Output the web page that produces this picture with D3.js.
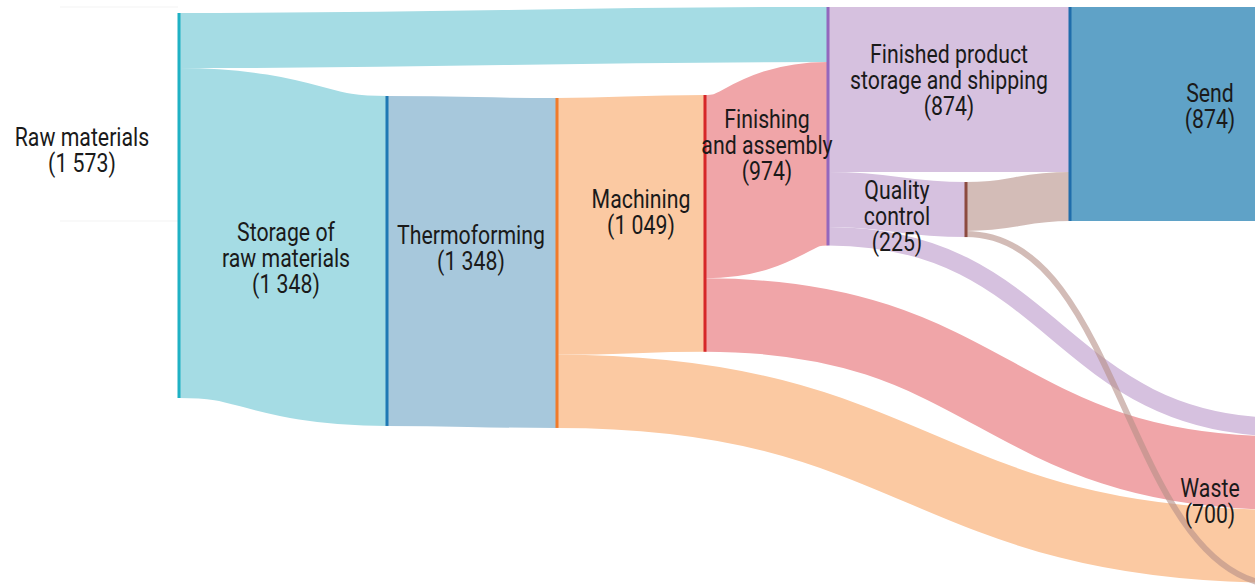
<!DOCTYPE html>
<html>
<head>
<meta charset="utf-8">
<script src="https://cdn.jsdelivr.net/npm/d3@7"></script>
<style>
  body { margin: 0; background: #fff; }
  svg { display: block; }
  text { font-family: Roboto, "Liberation Sans", sans-serif; font-weight: 400; font-size: 26px; fill: #1a1a1a; }
</style>
</head>
<body>
<svg width="1255" height="587"></svg>
<script>
// flows
let nodeNames = ["Raw materials", "Storage of\nraw materials", "Thermoforming", "Machining",
  "Finishing\nand assembly", "Quality\ncontrol", "Finished product\nstorage and shipping", "Send", "Waste"];
let nodeTotals = [1573, 1348, 1348, 1049, 974, 225, 874, 874, 700];
let linkSource = [0, 0, 1, 2, 3, 4, 4, 5, 6, 4, 3, 2, 5];
let linkTarget = [4, 1, 2, 3, 4, 6, 5, 6, 7, 8, 8, 8, 8];
let linkValue  = [225, 1348, 1348, 1049, 749, 674, 225, 200, 874, 75, 300, 299, 25];

// layout and style
let nodeX   = [179, 387, 557, 705, 828, 966, 1070, 1350, 1285];
let nodeTop = [13, 96, 98, 95, 7, 182, 7, 7, 418];
let labelX  = [82, 286, 471, 641, 767, 897, 949, 1210, 1210];
let labelY  = [146, 241, 244, 208, 128, 199, 63, 102, 497];
let nodeColor = ["#1fb1c4", "#1f78b4", "#f07b2b", "#d62728", "#9467bd", "#8c4b40", "#1f6dab", "#1f6dab", "#888"];
let linkColor = ["#a5dce4", "#a7c8dc", "#fbc9a2", "#f0a5a8", "#d6c1df", "#b58f87", "#5fa2c7"];

let svg = d3.select("svg");
let fmt = d3.formatLocale({decimal: ",", thousands: " ", grouping: [3], currency: ["", ""]}).format(",d");

let links = linkValue.map(function(v, i) {
  return {source: linkSource[i], target: linkTarget[i], value: v};
});

let nodes = nodeNames.map(function(name, i) {
  let vin = d3.sum(links.filter(function(l) { return l.target === i; }), function(l) { return l.value; });
  let vout = d3.sum(links.filter(function(l) { return l.source === i; }), function(l) { return l.value; });
  return {name: name, index: i, value: Math.max(vin, vout), outY: nodeTop[i], inY: nodeTop[i]};
});

let h = d3.scaleLinear()
    .domain([0, d3.max(nodes, function(d) { return d.value; })])
    .range([0, 385]);

// stack links at each end in array order
links.forEach(function(l) {
  let w = h(l.value);
  l.width = w;
  l.y0 = nodes[l.source].outY + w / 2;
  nodes[l.source].outY += w;
  l.y1 = nodes[l.target].inY + w / 2;
  nodes[l.target].inY += w;
});

let linkPath = d3.linkHorizontal()
    .source(function(d) { return [nodeX[d.source], d.y0]; })
    .target(function(d) { return [nodeX[d.target], d.y1]; });

// faint rules at the far left
svg.selectAll(".rule")
  .data([7, 221])
  .enter().append("line")
    .attr("x1", 60).attr("x2", 178)
    .attr("y1", function(d) { return d; }).attr("y2", function(d) { return d; })
    .attr("stroke", "#f3f3f3");

svg.append("g")
  .selectAll("path")
  .data(links)
  .enter().append("path")
    .attr("d", linkPath)
    .attr("fill", "none")
    .attr("stroke", function(d) { return linkColor[d.source]; })
    .attr("stroke-opacity", function(d) { return d.source === 5 ? 0.6 : 1; })
    .attr("stroke-width", function(d) { return d.width; });

svg.append("g")
  .selectAll("rect")
  .data(nodes.filter(function(d) { return nodeX[d.index] < 1255; }))
  .enter().append("rect")
    .attr("x", function(d) { return nodeX[d.index] - 1.5; })
    .attr("y", function(d) { return nodeTop[d.index]; })
    .attr("width", 3)
    .attr("height", function(d) { return h(d.value); })
    .attr("fill", function(d) { return nodeColor[d.index]; });

// the labels use a condensed face: squeeze the installed one to the measured width
let probe = svg.append("text").text("Thermoforming");
let squeeze = 148 / probe.node().getComputedTextLength();
probe.remove();

let label = svg.append("g")
  .selectAll("text")
  .data(nodes)
  .enter().append("text")
    .attr("text-anchor", "middle")
    .attr("transform", function(d) {
      return "translate(" + labelX[d.index] + "," + labelY[d.index] + ") scale(" + squeeze + ",1)";
    });

label.each(function(d) {
  let lines = d.name.split("\n").concat("(" + fmt(nodeTotals[d.index]) + ")");
  d3.select(this).selectAll("tspan")
    .data(lines)
    .enter().append("tspan")
      .attr("x", 0)
      .attr("dy", function(t, i) { return i === 0 ? 0 : 26; })
      .text(function(t) { return t; });
});
</script>
</body>
</html>
